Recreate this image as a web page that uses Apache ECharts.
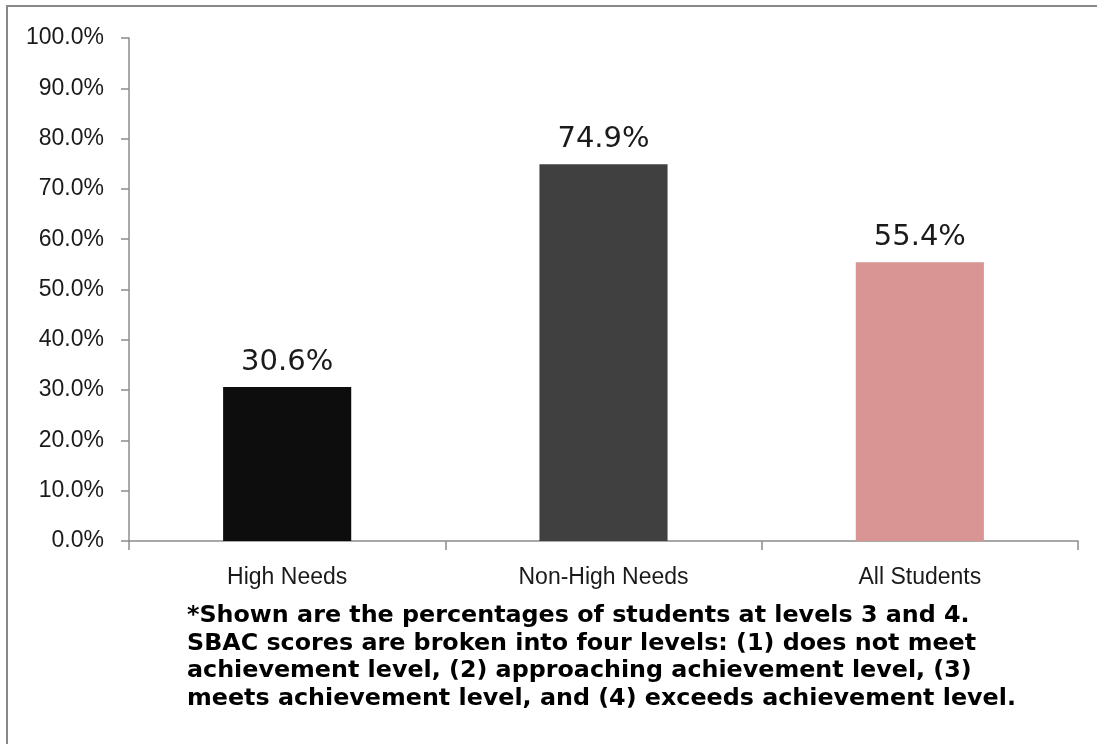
<!DOCTYPE html>
<html>
<head>
<meta charset="utf-8">
<script src="https://cdn.jsdelivr.net/npm/echarts@6/dist/echarts.min.js"></script>
<style>
  html, body { margin: 0; padding: 0; background: #fff; }
  #chart { width: 1097px; height: 744px; }
</style>
</head>
<body>
<div id="chart"></div>
<script>
// Share of students at SBAC levels 3 and 4, by group
const categories = ['High Needs', 'Non-High Needs', 'All Students'];
const values = [30.6, 74.9, 55.4];
const barColors = ['#0d0d0d', '#404040', '#d99594'];
const yTicks = { min: 0, max: 100, interval: 10 };
const footnoteLines = [
  '*Shown are the percentages of students at levels 3 and 4.',
  'SBAC scores are broken into four levels: (1) does not meet',
  'achievement level, (2) approaching achievement level, (3)',
  'meets achievement level, and (4) exceeds achievement level.'
];

const chart = echarts.init(document.getElementById('chart'), null, { renderer: 'canvas' });

chart.setOption({
  backgroundColor: '#ffffff',
  animation: false,
  grid: { left: 129, right: 19, top: 38, bottom: 203, containLabel: false },
  xAxis: {
    type: 'category',
    data: categories,
    axisLine: { show: true, lineStyle: { color: '#8c8c8c', width: 1.5 } },
    axisTick: { show: true, alignWithLabel: false, length: 9, lineStyle: { color: '#8c8c8c', width: 1.5 } },
    axisLabel: { margin: 25, color: '#1a1a1a', fontFamily: 'Liberation Sans', fontSize: 23 },
    splitLine: { show: false }
  },
  yAxis: {
    type: 'value',
    min: yTicks.min,
    max: yTicks.max,
    interval: yTicks.interval,
    axisLine: { show: true, lineStyle: { color: '#8c8c8c', width: 1.5 } },
    axisTick: { show: true, length: 8, lineStyle: { color: '#8c8c8c', width: 1.5 } },
    axisLabel: {
      margin: 25,
      color: '#1a1a1a',
      fontFamily: 'Liberation Sans',
      fontSize: 23,
      formatter: v => v.toFixed(1) + '%'
    },
    splitLine: { show: false }
  },
  series: [{
    type: 'bar',
    barWidth: '40.5%',
    data: values.map((v, i) => ({ value: v, itemStyle: { color: barColors[i] } })),
    label: {
      show: true,
      position: 'top',
      distance: 10,
      color: '#1a1a1a',
      fontFamily: 'DejaVu Sans',
      fontSize: 29,
      formatter: p => p.value.toFixed(1) + '%'
    }
  }],
  graphic: [
    {
      type: 'rect',
      shape: { x: 7, y: 6, width: 1300, height: 900 },
      style: { fill: 'none', stroke: '#888888', lineWidth: 2 },
      silent: true
    },
    {
      type: 'text',
      left: 187,
      top: 602,
      style: {
        text: footnoteLines.join('\n'),
        fill: '#000000',
        font: 'bold 23.8px "DejaVu Sans"',
        lineHeight: 27.7
      }
    }
  ]
});
</script>
</body>
</html>
